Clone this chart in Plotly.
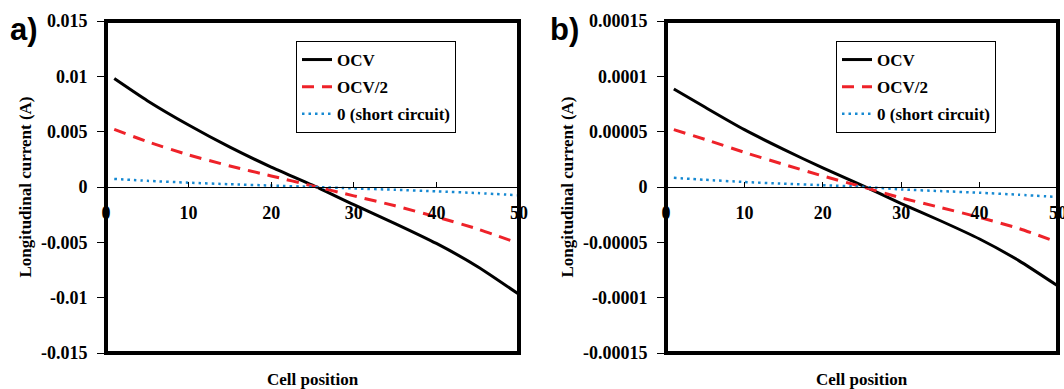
import plotly.graph_objects as go

# ---------------- data ----------------
cells = [1, 5, 10, 15, 20, 25, 30, 35, 40, 45, 50]

a_ocv = [0.0098, 0.0078, 0.0056, 0.0036, 0.0018, 0.00017, -0.0016, -0.0033, -0.0051, -0.0072, -0.0097]
a_half = [0.0052, 0.0041, 0.0029, 0.0019, 0.0010, 0.0001, -0.0008, -0.0017, -0.0027, -0.0038, -0.0051]
a_short = [0.00073, 0.00056, 0.00039, 0.00025, 0.00013, 0.00001, -0.00013, -0.00025, -0.00039, -0.00055, -0.00075]

b_ocv = [0.0000886, 0.000072, 0.0000518, 0.000034, 0.0000172, 0.0000015, -0.000015, -0.0000305, -0.000047, -0.0000665, -0.0000895]
b_half = [0.0000518, 0.000043, 0.0000313, 0.0000205, 0.00001, 0.0000002, -0.0000098, -0.0000185, -0.0000275, -0.0000375, -0.000050]
b_short = [0.0000083, 0.0000065, 0.0000045, 0.000003, 0.0000016, 0.0000002, -0.0000022, -0.0000037, -0.0000052, -0.000007, -0.000009]

series_names = ["OCV", "OCV/2", "0 (short circuit)"]

x_tickvals = [0, 10, 20, 30, 40, 50]
x_ticktext = ["0", "10", "20", "30", "40", "50"]

a_yticks = [0.015, 0.01, 0.005, 0, -0.005, -0.01, -0.015]
a_yticktext = ["0.015", "0.01", "0.005", "0", "-0.005", "-0.01", "-0.015"]
b_yticks = [0.00015, 0.0001, 0.00005, 0, -0.00005, -0.0001, -0.00015]
b_yticktext = ["0.00015", "0.0001", "0.00005", "0", "-0.00005", "-0.0001", "-0.00015"]

panel_labels = ["a)", "b)"]
x_title = "Cell position"
y_title = "Longitudinal current (A)"

# ---------------- styles ----------------
W, H = 1064, 389
SERIF = "Liberation Serif"
styles = [
    dict(color="black", width=3, dash="solid"),
    dict(color="#EE2229", width=3, dash="12px,8px"),
    dict(color="#1689D2", width=2.5, dash="2.5px,4px"),
]

ydom = [1 - 353 / H, 1 - 21 / H]
ymid = (ydom[0] + ydom[1]) / 2
xdom_a = [106 / W, 519 / W]
xdom_b = [666 / W, 1058 / W]

fig = go.Figure()

panels = [
    ("x", "y", "legend", [a_ocv, a_half, a_short]),
    ("x2", "y2", "legend2", [b_ocv, b_half, b_short]),
]
for xa, ya, lg, series in panels:
    for i, (name, vals, st) in enumerate(zip(series_names, series, styles)):
        fig.add_trace(go.Scatter(
            x=cells, y=vals, name=name, mode="lines",
            line=dict(color=st["color"], width=st["width"], dash=st["dash"], shape="spline", smoothing=0.6),
            xaxis=xa, yaxis=ya, legend=lg, legendgroup=f"{lg}_{i}", hoverinfo="skip",
        ))

tickfont = dict(family=SERIF, size=18, color="black", weight="bold")

def xaxis_cfg(dom):
    return dict(
        domain=dom, range=[0, 50], anchor="free", position=ymid,
        showline=True, linecolor="black", linewidth=1,
        ticks="inside", ticklen=5, tickwidth=1, tickcolor="black",
        tickvals=x_tickvals, ticktext=x_ticktext, tickfont=tickfont,
        ticklabelstandoff=9, ticklabeloverflow="allow",
        showgrid=False, zeroline=False, automargin=False,
    )

def yaxis_cfg(anchor, yt, ytt, rng):
    return dict(
        domain=ydom, range=rng, anchor=anchor,
        showline=False, ticks="outside", ticklen=8, tickwidth=1, tickcolor="black",
        tickvals=yt, ticktext=ytt, tickfont=tickfont, ticklabelstandoff=6,
        showgrid=False, zeroline=False, automargin=False,
        title=dict(text=y_title, font=dict(family=SERIF, size=17, color="black", weight="bold"), standoff=4),
    )

legend_common = dict(
    xanchor="left", yanchor="top", bgcolor="white",
    bordercolor="black", borderwidth=1,
    font=dict(family=SERIF, size=17, color="black", weight="bold"),
    itemwidth=30, tracegroupgap=2, traceorder="grouped",
)

fig.update_layout(
    width=W, height=H,
    margin=dict(l=0, r=0, t=0, b=0),
    paper_bgcolor="white", plot_bgcolor="white",
    xaxis=xaxis_cfg(xdom_a),
    xaxis2=xaxis_cfg(xdom_b),
    yaxis=yaxis_cfg("x", a_yticks, a_yticktext, [-0.015, 0.015]),
    yaxis2=yaxis_cfg("x2", b_yticks, b_yticktext, [-0.00015, 0.00015]),
    legend=dict(x=296 / W, y=1 - 41 / H, **legend_common),
    legend2=dict(x=836 / W, y=1 - 41 / H, **legend_common),
    showlegend=True,
)

# frames
for xr, yr in [("x domain", "y domain"), ("x2 domain", "y2 domain")]:
    fig.add_shape(type="rect", xref=xr, yref=yr, x0=0, x1=1, y0=0, y1=1,
                  line=dict(color="black", width=4), layer="above")

# x titles
for dom in [xdom_a, xdom_b]:
    fig.add_annotation(text=x_title, xref="paper", yref="paper",
                       x=(dom[0] + dom[1]) / 2, y=1 - 379 / H, showarrow=False,
                       xanchor="center", yanchor="middle",
                       font=dict(family=SERIF, size=17, color="black", weight="bold"))

# panel labels
for lab, px in zip(panel_labels, [24, 564]):
    fig.add_annotation(text=lab, xref="paper", yref="paper",
                       x=px / W, y=1 - 30 / H, showarrow=False,
                       xanchor="center", yanchor="middle",
                       font=dict(family="Liberation Sans", size=31, color="black", weight="bold"))

fig.write_html("out.html")
